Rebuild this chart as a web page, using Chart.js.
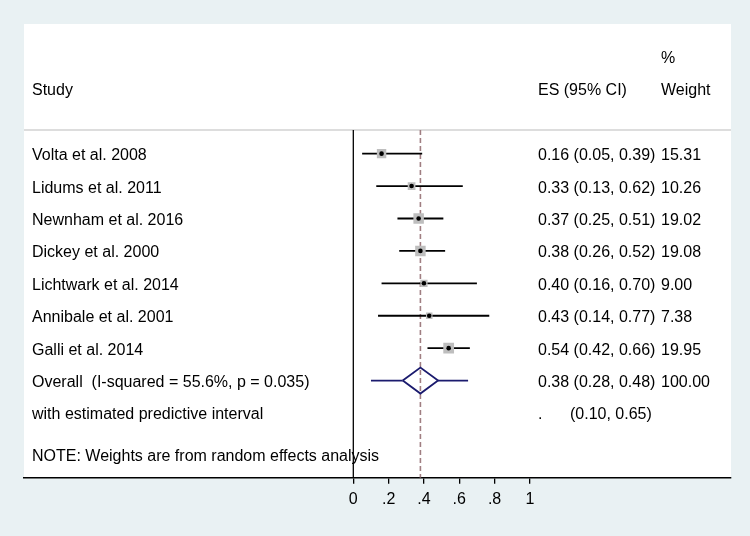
<!DOCTYPE html>
<html>
<head>
<meta charset="utf-8">
<script src="https://cdn.jsdelivr.net/npm/chart.js@4.4.1/dist/chart.umd.min.js"></script>
<style>
  html, body { margin: 0; padding: 0; background: #e9f1f3; }
  #wrap { width: 750px; height: 536px; }
</style>
</head>
<body>
<div id="wrap"><canvas id="forest"></canvas></div>
<script>
// study rows
const studies = ['Volta et al. 2008', 'Lidums et al. 2011', 'Newnham et al. 2016', 'Dickey et al. 2000',
  'Lichtwark et al. 2014', 'Annibale et al. 2001', 'Galli et al. 2014'];
const es = [0.16, 0.33, 0.37, 0.38, 0.40, 0.43, 0.54];
const ciLow = [0.05, 0.13, 0.25, 0.26, 0.16, 0.14, 0.42];
const ciHigh = [0.39, 0.62, 0.51, 0.52, 0.70, 0.77, 0.66];
const weights = [15.31, 10.26, 19.02, 19.08, 9.00, 7.38, 19.95];

// pooled estimate + predictive interval
const overallLabel = 'Overall  (I-squared = 55.6%, p = 0.035)';
const overallEs = 0.38, overallLow = 0.28, overallHigh = 0.48, overallWeight = 100.00;
const predLabel = 'with estimated predictive interval';
const predLow = 0.10, predHigh = 0.65;
const noteText = 'NOTE: Weights are from random effects analysis';

const xTicks = [0, 0.2, 0.4, 0.6, 0.8, 1];
const xTickLabels = ['0', '.2', '.4', '.6', '.8', '1'];

const xMin = -1.865, xMax = 2.139;
const yMin = -4, yMax = 10;
const overallRow = studies.length;
const predRow = overallRow + 1;
const headRow = -0.73;
const navy = '#1b1b6e';
const font = '16px "Liberation Sans", Arial, sans-serif';

const fmt = v => v.toFixed(2);

const seg = (x1, y1, x2, y2, color, width, order, dash) => ({
  data: [{ x: x1, y: y1 }, { x: x2, y: y2 }],
  showLine: true, borderColor: color, borderWidth: width, pointRadius: 0,
  borderDash: dash || [], order
});

const datasets = [];
studies.forEach((s, i) => datasets.push(seg(ciLow[i], i, ciHigh[i], i, '#000', 1.8, 2)));
// weight boxes, side ~ sqrt(weight)
datasets.push({
  data: es.map((v, i) => ({ x: v, y: i })),
  pointStyle: 'rect', pointRadius: weights.map(w => 1.7 * Math.sqrt(w)),
  backgroundColor: '#bebebe', borderWidth: 0, showLine: false, order: 1
});
datasets.push({
  data: es.map((v, i) => ({ x: v, y: i })),
  pointStyle: 'circle', pointRadius: 2.3, backgroundColor: '#000', borderWidth: 0, showLine: false, order: 0
});
datasets.push({
  data: [
    { x: overallLow, y: overallRow }, { x: overallEs, y: overallRow - 0.4 },
    { x: overallHigh, y: overallRow }, { x: overallEs, y: overallRow + 0.4 },
    { x: overallLow, y: overallRow }
  ],
  showLine: true, borderColor: navy, borderWidth: 1.8, pointRadius: 0, order: 2
});
datasets.push(seg(predLow, overallRow, overallLow, overallRow, navy, 1.8, 2));
datasets.push(seg(overallHigh, overallRow, predHigh, overallRow, navy, 1.8, 2));
datasets.push(seg(overallEs, headRow, overallEs, yMax, '#a07e82', 1.6, 3, [5, 3]));
datasets.push(seg(0, headRow, 0, yMax, '#000', 1.3, 4));
datasets.push(seg(xMin, headRow, xMax, headRow, '#d2d2d2', 1.6, 5));

const panel = {
  id: 'panel',
  beforeDraw(chart) {
    const { ctx, chartArea: a } = chart;
    ctx.save();
    ctx.fillStyle = '#e9f1f3';
    ctx.fillRect(0, 0, chart.width, chart.height);
    ctx.fillStyle = '#fff';
    ctx.fillRect(a.left, a.top, a.right - a.left, a.bottom - a.top);
    ctx.restore();
  },
  beforeDatasetsDraw(chart) {
    const { ctx, chartArea: a } = chart;
    const y = chart.scales.y;
    const base = r => y.getPixelForValue(r) + 6.5;
    const lx = a.left + 8, esx = 538, wx = 661;
    ctx.save();
    ctx.font = font;
    ctx.fillStyle = '#000';
    ctx.textBaseline = 'alphabetic';
    ctx.fillText('%', wx, base(-3));
    ctx.fillText('Study', lx, base(-2));
    ctx.fillText('ES (95% CI)', esx, base(-2));
    ctx.fillText('Weight', wx, base(-2));
    studies.forEach((s, i) => {
      ctx.fillText(s, lx, base(i));
      ctx.fillText(`${fmt(es[i])} (${fmt(ciLow[i])}, ${fmt(ciHigh[i])})`, esx, base(i));
      ctx.fillText(fmt(weights[i]), wx, base(i));
    });
    ctx.fillText(overallLabel, lx, base(overallRow));
    ctx.fillText(`${fmt(overallEs)} (${fmt(overallLow)}, ${fmt(overallHigh)})`, esx, base(overallRow));
    ctx.fillText(fmt(overallWeight), wx, base(overallRow));
    ctx.fillText(predLabel, lx, base(predRow));
    ctx.fillText('.', esx, base(predRow));
    ctx.fillText(`(${fmt(predLow)}, ${fmt(predHigh)})`, 570, base(predRow));
    ctx.fillText(noteText, lx, base(9.27));
    ctx.restore();
  }
};

new Chart(document.getElementById('forest'), {
  type: 'scatter',
  data: { datasets },
  options: {
    responsive: true,
    maintainAspectRatio: false,
    animation: false,
    layout: { padding: { left: 24, right: 19, top: 24, bottom: 21 } },
    plugins: { legend: { display: false }, tooltip: { enabled: false } },
    scales: {
      x: {
        type: 'linear', min: xMin, max: xMax,
        afterBuildTicks: s => { s.ticks = xTicks.map(v => ({ value: v })); },
        ticks: {
          padding: 6, color: '#000', maxRotation: 0, autoSkip: false,
          font: { family: '"Liberation Sans", Arial, sans-serif', size: 16 },
          callback: (v, i) => xTickLabels[i]
        },
        grid: { drawOnChartArea: false, drawTicks: true, tickLength: 6, color: '#000', lineWidth: 1.3 },
        border: { display: true, color: '#000', width: 1.6 }
      },
      y: { type: 'linear', min: yMin, max: yMax, reverse: true, display: false }
    }
  },
  plugins: [panel]
});
</script>
</body>
</html>
